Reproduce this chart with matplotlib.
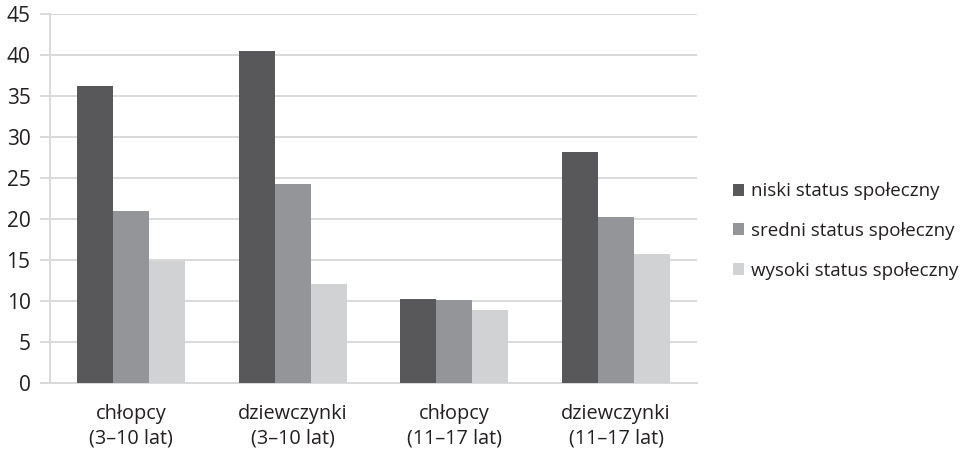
import matplotlib
matplotlib.use('Agg')
import matplotlib.pyplot as plt
import numpy as np
from matplotlib.patches import Patch

# data
categories = ['chłopcy\n(3–10 lat)', 'dziewczynki\n(3–10 lat)',
              'chłopcy\n(11–17 lat)', 'dziewczynki\n(11–17 lat)']
niski = [36.2, 40.5, 10.2, 28.2]
sredni = [21.0, 24.3, 10.1, 20.2]
wysoki = [14.9, 12.1, 8.9, 15.7]
series_names = ['niski status społeczny', 'sredni status społeczny', 'wysoki status społeczny']
yticks = [0, 5, 10, 15, 20, 25, 30, 35, 40, 45]

colors = ['#58585a', '#939598', '#d1d2d4']
grid_color = '#d9d9d9'
text_color = '#231f20'

plt.rcParams['font.family'] = ['Open Sans', 'DejaVu Sans']

fig = plt.figure(figsize=(9.74, 4.54), dpi=100)
ax = fig.add_axes([50 / 974, 71 / 454, 647 / 974, 369 / 454])

x = np.arange(len(categories))
w = 1 / 4.5
for i, vals in enumerate([niski, sredni, wysoki]):
    ax.bar(x + (i - 1) * w, vals, width=w, color=colors[i], zorder=3,
           linewidth=0, label=series_names[i])

ax.set_xlim(-0.5, len(categories) - 0.5)
ax.set_ylim(0, 45)
ax.set_yticks(yticks)
ax.yaxis.grid(True, color=grid_color, linewidth=1.4, zorder=0)
ax.tick_params(axis='y', length=7, width=1.4, color=grid_color, pad=7,
               labelsize=15, labelcolor=text_color)
ax.set_xticks(x)
ax.set_xticklabels(categories, fontsize=14.3, color=text_color, linespacing=1.3)
ax.tick_params(axis='x', length=0, pad=15)

for side in ['top', 'right']:
    ax.spines[side].set_visible(False)
for side in ['left', 'bottom']:
    ax.spines[side].set_color(grid_color)
    ax.spines[side].set_linewidth(1.4)

handles = [Patch(facecolor=c, edgecolor='none') for c in colors]
fig.legend(handles, series_names, loc='center left', bbox_to_anchor=(733 / 974, 1 - 231 / 454),
           frameon=False, fontsize=13.5, handlelength=0.6, handleheight=0.6, borderpad=0,
           borderaxespad=0, handletextpad=0.35, labelspacing=1.15, labelcolor=text_color)

fig.savefig('out.png', dpi=100)
